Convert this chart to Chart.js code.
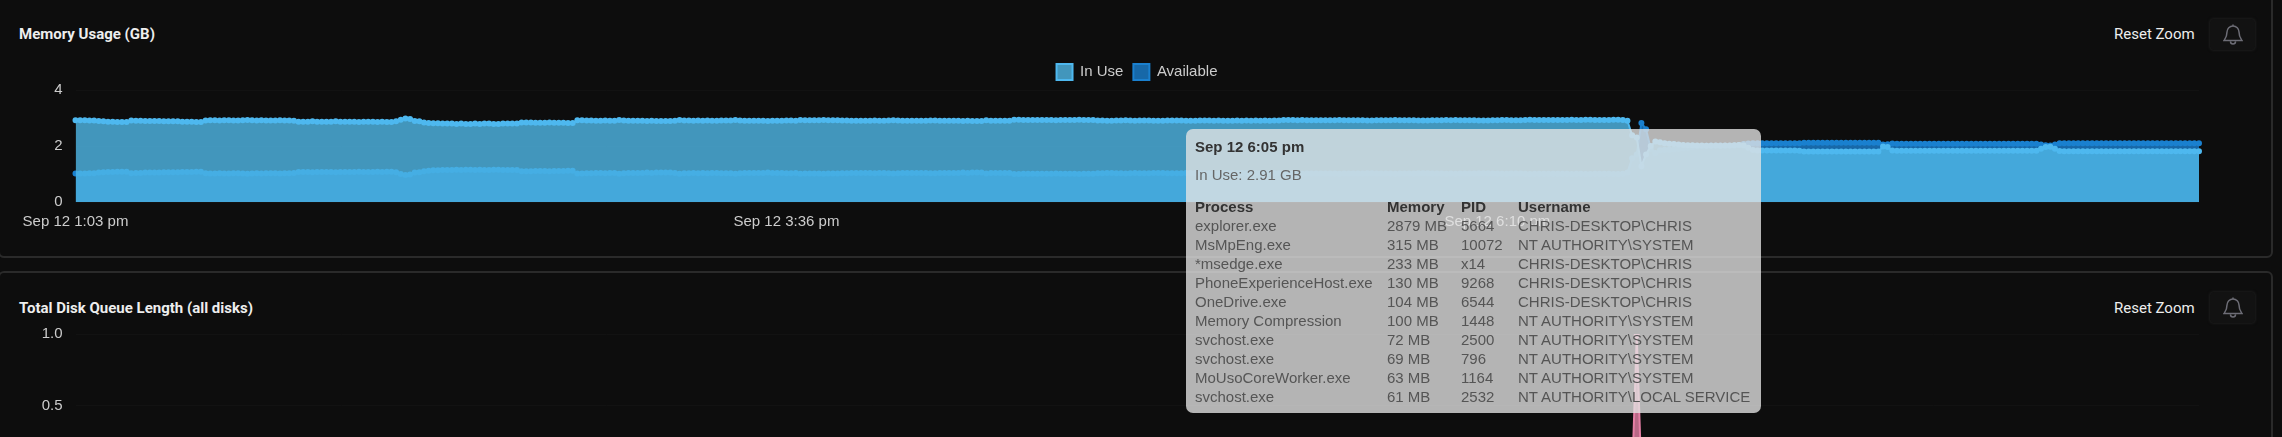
<!DOCTYPE html>
<html>
<head>
<meta charset="utf-8">
<script src="https://cdn.jsdelivr.net/npm/chart.js@4"></script>
<style>
  html, body { margin: 0; height: 100%; background: #0d0d0d; overflow: hidden; }
  .panel { position: absolute; left: -2px; width: 2275px; background: #0d0d0d; border: 2px solid #2a2a2a; border-radius: 6px; box-sizing: border-box; }
  .title { position: absolute; left: 19px; font: 700 15px Roboto, sans-serif; color: #eee; line-height: 16px; }
  .reset { position: absolute; left: 2114px; font: 15px Roboto, sans-serif; color: #eee; line-height: 16px; }
  .bell { position: absolute; left: 2210px; width: 45px; height: 31px; background: #121212; border-radius: 4px; box-shadow: 0 0 3px #2a2a2a; display: flex; align-items: center; justify-content: center; }
  canvas { position: absolute; left: 0; }
  #tip { position: absolute; left: 1186px; top: 129px; width: 575px; height: 284px; background: rgba(228,228,228,.78); border-radius: 7px; font: 15px "Liberation Sans", Arial, sans-serif; color: #555; z-index: 5; }
  #tip div { position: absolute; left: 9px; line-height: 18px; white-space: nowrap; }
  #tip table { position: absolute; left: 9px; top: 68px; border-collapse: collapse; table-layout: fixed; width: 560px; }
  #tip td, #tip th { padding: 0; height: 19px; line-height: 19px; text-align: left; white-space: nowrap; font-size: 15px; }
  #tip th { color: #333; }
</style>
</head>
<body>
<div class="panel" style="top:-20px;height:278px"></div>
<div class="panel" style="top:271px;height:300px"></div>

<div class="title" style="top:26px">Memory Usage (GB)</div>
<div class="title" style="top:300px">Total Disk Queue Length (all disks)</div>
<div class="reset" style="top:26px">Reset Zoom</div>
<div class="reset" style="top:300px">Reset Zoom</div>
<div class="bell" style="top:19px"><svg width="20" height="22" viewBox="0 0 20 22" fill="none" stroke="#6d6d76" stroke-width="1.5"><path d="M10 2a6 6 0 0 0-6 6c0 5-2 7-3 8.500h18c-1-1.500-3-3.500-3-8.500a6 6 0 0 0-6-6zM10 0.500v1.500M7.500 17.500a2.500 2.500 0 0 0 5 0"/></svg></div>
<div class="bell" style="top:292px"><svg width="20" height="22" viewBox="0 0 20 22" fill="none" stroke="#6d6d76" stroke-width="1.5"><path d="M10 2a6 6 0 0 0-6 6c0 5-2 7-3 8.500h18c-1-1.500-3-3.500-3-8.500a6 6 0 0 0-6-6zM10 0.500v1.500M7.500 17.500a2.500 2.500 0 0 0 5 0"/></svg></div>

<canvas id="memoryChart" width="2274" height="180" style="top:54px"></canvas>
<canvas id="diskChart" width="2274" height="197" style="top:312px"></canvas>

<div id="tip">
  <div style="top:9px;font-weight:700;color:#333">Sep 12 6:05 pm</div>
  <div style="top:37px;color:#666">In Use: 2.91 GB</div>
  <table id="procTable"></table>
</div>

<script>
const inUse = [
  2.92,2.92,2.92,2.91,2.91,2.89,2.88,2.87,2.87,2.86,
  2.86,2.86,2.91,2.90,2.90,2.89,2.89,2.89,2.89,2.88,
  2.88,2.88,2.88,2.87,2.87,2.87,2.86,2.86,2.91,2.92,
  2.92,2.91,2.92,2.92,2.91,2.91,2.92,2.93,2.92,2.91,
  2.92,2.91,2.91,2.91,2.92,2.91,2.91,2.90,2.87,2.87,
  2.87,2.88,2.87,2.87,2.87,2.87,2.88,2.87,2.87,2.87,
  2.87,2.86,2.87,2.87,2.87,2.86,2.87,2.86,2.86,2.88,
  2.94,2.98,2.96,2.89,2.88,2.84,2.82,2.81,2.81,2.80,
  2.80,2.80,2.79,2.80,2.79,2.79,2.80,2.79,2.80,2.80,
  2.79,2.79,2.80,2.80,2.80,2.80,2.84,2.84,2.84,2.83,
  2.83,2.83,2.84,2.83,2.83,2.83,2.82,2.82,2.92,2.92,
  2.91,2.91,2.90,2.90,2.91,2.90,2.90,2.93,2.91,2.90,
  2.90,2.90,2.90,2.89,2.90,2.89,2.89,2.89,2.89,2.90,
  2.93,2.91,2.91,2.90,2.91,2.90,2.91,2.90,2.90,2.91,
  2.91,2.91,2.93,2.91,2.90,2.90,2.90,2.90,2.90,2.89,
  2.90,2.90,2.90,2.91,2.91,2.90,2.93,2.92,2.92,2.92,
  2.92,2.93,2.92,2.92,2.92,2.91,2.91,2.90,2.90,2.90,
  2.90,2.90,2.91,2.90,2.90,2.91,2.92,2.91,2.90,2.90,
  2.90,2.90,2.90,2.90,2.91,2.91,2.90,2.90,2.90,2.90,
  2.90,2.89,2.90,2.89,2.89,2.89,2.92,2.90,2.90,2.90,
  2.90,2.90,2.94,2.94,2.93,2.93,2.93,2.93,2.93,2.93,
  2.93,2.92,2.93,2.93,2.93,2.93,2.94,2.93,2.93,2.93,
  2.91,2.91,2.90,2.90,2.91,2.91,2.92,2.91,2.90,2.91,
  2.91,2.91,2.90,2.90,2.90,2.91,2.91,2.91,2.91,2.90,
  2.90,2.90,2.91,2.91,2.91,2.90,2.91,2.90,2.90,2.90,
  2.91,2.90,2.91,2.90,2.91,2.90,2.91,2.90,2.91,2.91,
  2.93,2.93,2.93,2.92,2.93,2.92,2.92,2.92,2.92,2.92,
  2.92,2.92,2.93,2.92,2.92,2.92,2.92,2.92,2.91,2.91,
  2.92,2.92,2.92,2.92,2.93,2.92,2.92,2.92,2.92,2.91,
  2.91,2.91,2.92,2.92,2.92,2.93,2.92,2.93,2.92,2.92,
  2.92,2.92,2.91,2.91,2.91,2.92,2.92,2.93,2.93,2.92,
  2.92,2.92,2.93,2.94,2.93,2.93,2.93,2.93,2.93,2.93,
  2.93,2.93,2.94,2.93,2.93,2.94,2.94,2.93,2.93,2.93,
  2.93,2.94,2.94,2.93,2.90,2.38,2.30,1.28,1.70,2.00,
  2.16,2.13,2.10,2.08,2.07,2.05,2.04,2.03,2.03,2.02,
  2.02,2.01,2.01,2.02,2.01,2.02,2.02,2.03,2.04,2.02,
  1.94,1.86,1.84,1.84,1.84,1.84,1.84,1.84,1.84,1.84,
  1.84,1.83,1.80,1.80,1.80,1.80,1.80,1.80,1.80,1.80,
  1.80,1.80,1.80,1.80,1.80,1.80,1.80,1.80,1.80,1.98,
  1.96,1.84,1.83,1.83,1.83,1.83,1.83,1.83,1.83,1.83,
  1.83,1.83,1.83,1.83,1.83,1.83,1.83,1.83,1.83,1.83,
  1.83,1.83,1.83,1.83,1.83,1.83,1.83,1.83,1.83,1.83,
  1.83,1.83,1.83,1.90,1.96,1.97,1.90,1.82,1.81,1.81,
  1.81,1.81,1.81,1.81,1.81,1.81,1.81,1.81,1.81,1.81,
  1.81,1.81,1.81,1.81,1.81,1.81,1.81,1.81,1.81,1.81,
  1.81,1.81,1.81,1.81,1.81,1.81,1.81,1.81
];

const available = [
  1.02,1.02,1.02,1.03,1.03,1.05,1.06,1.07,1.07,1.08,
  1.08,1.08,1.03,1.04,1.04,1.05,1.05,1.05,1.05,1.06,
  1.06,1.06,1.06,1.07,1.07,1.07,1.08,1.08,1.03,1.02,
  1.02,1.03,1.02,1.02,1.03,1.03,1.02,1.01,1.02,1.03,
  1.02,1.03,1.03,1.03,1.02,1.03,1.03,1.04,1.07,1.07,
  1.07,1.06,1.07,1.07,1.07,1.07,1.06,1.07,1.07,1.07,
  1.07,1.08,1.07,1.07,1.07,1.08,1.07,1.08,1.08,1.06,
  1.00,0.96,0.98,1.05,1.06,1.10,1.12,1.13,1.13,1.14,
  1.14,1.14,1.15,1.14,1.15,1.15,1.14,1.15,1.14,1.14,
  1.15,1.15,1.14,1.14,1.14,1.14,1.10,1.10,1.10,1.11,
  1.11,1.11,1.10,1.11,1.11,1.11,1.12,1.12,1.02,1.02,
  1.03,1.03,1.04,1.04,1.03,1.04,1.04,1.01,1.03,1.04,
  1.04,1.04,1.04,1.05,1.04,1.05,1.05,1.05,1.05,1.04,
  1.01,1.03,1.03,1.04,1.03,1.04,1.03,1.04,1.04,1.03,
  1.03,1.03,1.01,1.03,1.04,1.04,1.04,1.04,1.04,1.05,
  1.04,1.04,1.04,1.03,1.03,1.04,1.01,1.02,1.02,1.02,
  1.02,1.01,1.02,1.02,1.02,1.03,1.03,1.04,1.04,1.04,
  1.04,1.04,1.03,1.04,1.04,1.03,1.02,1.03,1.04,1.04,
  1.04,1.04,1.04,1.04,1.03,1.03,1.04,1.04,1.04,1.04,
  1.04,1.05,1.04,1.05,1.05,1.05,1.02,1.04,1.04,1.04,
  1.04,1.04,1.00,1.00,1.01,1.01,1.01,1.01,1.01,1.01,
  1.01,1.02,1.01,1.01,1.01,1.01,1.00,1.01,1.01,1.01,
  1.03,1.03,1.04,1.04,1.03,1.03,1.02,1.03,1.04,1.03,
  1.03,1.03,1.04,1.04,1.04,1.03,1.03,1.03,1.03,1.04,
  1.04,1.04,1.03,1.03,1.03,1.04,1.03,1.04,1.04,1.04,
  1.03,1.04,1.03,1.04,1.03,1.04,1.03,1.04,1.03,1.03,
  1.01,1.01,1.01,1.02,1.01,1.02,1.02,1.02,1.02,1.02,
  1.02,1.02,1.01,1.02,1.02,1.02,1.02,1.02,1.03,1.03,
  1.02,1.02,1.02,1.02,1.01,1.02,1.02,1.02,1.02,1.03,
  1.03,1.03,1.02,1.02,1.02,1.01,1.02,1.01,1.02,1.02,
  1.02,1.02,1.03,1.03,1.03,1.02,1.02,1.01,1.01,1.02,
  1.02,1.02,1.01,1.00,1.01,1.01,1.01,1.01,1.01,1.01,
  1.01,1.01,1.00,1.01,1.01,1.00,1.00,1.01,1.01,1.01,
  1.01,1.00,1.00,1.01,1.05,1.56,1.70,2.82,2.60,1.90,
  1.75,1.85,1.87,1.87,1.88,1.90,1.92,1.94,1.96,1.98,
  2.00,2.01,2.02,2.01,2.02,2.01,2.01,2.02,2.04,2.07,
  2.09,2.10,2.10,2.10,2.10,2.10,2.10,2.10,2.10,2.10,
  2.10,2.10,2.12,2.12,2.12,2.12,2.12,2.12,2.12,2.12,
  2.12,2.12,2.12,2.12,2.12,2.12,2.12,2.12,2.12,2.05,
  2.06,2.09,2.08,2.08,2.08,2.08,2.08,2.08,2.08,2.08,
  2.08,2.08,2.08,2.08,2.08,2.08,2.08,2.08,2.08,2.08,
  2.08,2.08,2.08,2.08,2.08,2.08,2.08,2.08,2.08,2.08,
  2.08,2.08,2.08,2.05,2.03,2.02,2.05,2.10,2.10,2.10,
  2.10,2.10,2.10,2.10,2.10,2.10,2.10,2.10,2.10,2.10,
  2.10,2.10,2.10,2.10,2.10,2.10,2.10,2.10,2.10,2.10,
  2.10,2.10,2.10,2.10,2.10,2.10,2.10,2.10
];

// only the spike is on screen, the rest of this series sits below the fold
const diskIndex = [0, 335, 336, 337, 457];
const diskQueue = [0, 0, 0.99, 0, 0];

const tickLabels = ['Sep 12 1:03 pm', 'Sep 12 3:36 pm', 'Sep 12 6:10 pm'];
const tickEvery = 153;
const memoryTicks = [0, 2, 4];
const diskTicks = [0, 0.5, 1];

const tipHeader = ['Process', 'Memory', 'PID', 'Username'];
const processes = ['explorer.exe', 'MsMpEng.exe', '*msedge.exe', 'PhoneExperienceHost.exe', 'OneDrive.exe', 'Memory Compression', 'svchost.exe', 'svchost.exe', 'MoUsoCoreWorker.exe', 'svchost.exe'];
const memories = ['2879 MB', '315 MB', '233 MB', '130 MB', '104 MB', '100 MB', '72 MB', '69 MB', '63 MB', '61 MB'];
const pids = ['5664', '10072', 'x14', '9268', '6544', '1448', '2500', '796', '1164', '2532'];
const usernames = ['CHRIS-DESKTOP\\CHRIS', 'NT AUTHORITY\\SYSTEM', 'CHRIS-DESKTOP\\CHRIS', 'CHRIS-DESKTOP\\CHRIS', 'CHRIS-DESKTOP\\CHRIS', 'NT AUTHORITY\\SYSTEM', 'NT AUTHORITY\\SYSTEM', 'NT AUTHORITY\\SYSTEM', 'NT AUTHORITY\\SYSTEM', 'NT AUTHORITY\\LOCAL SERVICE'];

const labels = inUse.map((v, i) => i);
const axisFont = { family: '"Liberation Sans", Arial, sans-serif', size: 15 };

function xAxis() {
  return {
    grid: { display: false },
    border: { display: false },
    ticks: {
      autoSkip: false,
      maxRotation: 0,
      color: '#ccc',
      font: axisFont,
      padding: 3,
      callback: (val, i) => i % tickEvery === 0 ? tickLabels[i / tickEvery] : null
    }
  };
}

function yAxis(values, format) {
  return {
    min: values[0],
    max: values[values.length - 1],
    afterBuildTicks: axis => { axis.ticks = values.map(v => ({ value: v })); },
    afterFit: axis => { axis.width = 75.5; },
    grid: { color: 'rgba(255,255,255,0.025)', drawTicks: false },
    border: { display: false },
    ticks: { color: '#ccc', font: axisFont, padding: 13, callback: format }
  };
}

// empty axis on the right keeps the plot short of the card edge, legend stays centred on the card
function rightGutter() {
  return {
    position: 'right',
    afterFit: axis => { axis.width = 75; },
    grid: { display: false },
    border: { display: false },
    ticks: { display: false }
  };
}

new Chart(document.getElementById('memoryChart'), {
  type: 'line',
  data: {
    labels: labels,
    datasets: [
      { label: 'In Use', data: inUse, fill: 'origin', borderColor: '#4eb8ef', backgroundColor: 'rgba(80,185,232,0.8)', pointBackgroundColor: '#4eb8ef', pointRadius: 2, borderWidth: 2 },
      { label: 'Available', data: available, fill: 'origin', borderColor: '#1a80cf', backgroundColor: 'rgba(26,128,207,0.8)', pointBackgroundColor: '#1a80cf', pointRadius: 2, borderWidth: 2 }
    ]
  },
  options: {
    responsive: false,
    animation: false,
    plugins: {
      tooltip: { enabled: false },
      legend: { labels: { boxWidth: 16, boxHeight: 16, color: '#ccc', font: axisFont } }
    },
    scales: {
      x: xAxis(),
      y: yAxis(memoryTicks, v => v),
      gutter: rightGutter()
    }
  }
});

new Chart(document.getElementById('diskChart'), {
  type: 'line',
  data: {
    labels: labels,
    datasets: [
      { label: 'Queue', data: diskIndex.map((x, i) => ({ x: x, y: diskQueue[i] })), fill: 'origin', borderColor: '#e57fa5', backgroundColor: 'rgba(229,127,165,0.8)', pointBackgroundColor: '#e57fa5', pointRadius: 2, borderWidth: 2 }
    ]
  },
  options: {
    responsive: false,
    animation: false,
    plugins: { tooltip: { enabled: false }, legend: { display: false } },
    scales: {
      x: xAxis(),
      y: yAxis(diskTicks, v => v.toFixed(1)),
      gutter: rightGutter()
    }
  }
});

// tooltip table, shown fixed as in the screenshot
let rows = '<colgroup><col style="width:192px"><col style="width:74px"><col style="width:57px"><col></colgroup>';
rows += '<tr>' + tipHeader.map(h => `<th>${h}</th>`).join('') + '</tr>';
processes.forEach((p, i) => {
  rows += `<tr><td>${p}</td><td>${memories[i]}</td><td>${pids[i]}</td><td>${usernames[i]}</td></tr>`;
});
document.getElementById('procTable').innerHTML = rows;
</script>
</body>
</html>
